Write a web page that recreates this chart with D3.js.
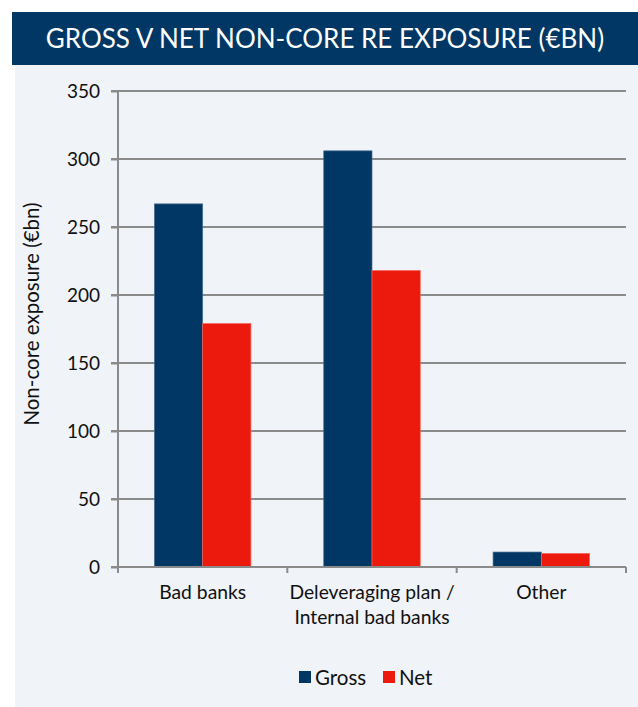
<!DOCTYPE html>
<html>
<head>
<meta charset="utf-8">
<script src="https://cdn.jsdelivr.net/npm/d3@7"></script>
<style>
  html, body { margin: 0; padding: 0; background: #ffffff; }
  svg { display: block; font-family: Lato, "Open Sans", sans-serif; }
</style>
</head>
<body>
<svg id="chart" width="638" height="707"></svg>
<script>
const title = "GROSS V NET NON-CORE RE EXPOSURE (€BN)";
const categories = ["Bad banks", "Deleveraging plan /\nInternal bad banks", "Other"];
const seriesNames = ["Gross", "Net"];
const grossValues = [267, 306, 11];
const netValues = [179, 218, 10];
const yTicks = [0, 50, 100, 150, 200, 250, 300, 350];
const yLabel = "Non-core exposure (€bn)";
const colors = { Gross: "#003764", Net: "#ec1a0c" };

(function () {
const svg = d3.select("#chart");

// panel background
svg.append("rect").attr("x", 15).attr("y", 60).attr("width", 623).attr("height", 647).attr("fill", "#f0f3f7");
// title banner
svg.append("rect").attr("x", 12).attr("y", 12).attr("width", 626).attr("height", 53).attr("fill", "#003764");
svg.append("text").attr("x", 325).attr("y", 48).attr("text-anchor", "middle")
  .attr("fill", "#ffffff").attr("font-size", 26).text(title);

const pLeft = 118, pRight = 626, pTop = 91, pBottom = 567;
const x = d3.scaleBand().domain(categories).range([pLeft, pRight]).paddingInner(0.43).paddingOuter(0.215);
const xs = d3.scaleBand().domain(seriesNames).range([0, x.bandwidth()]);
const y = d3.scaleLinear().domain([0, 350]).range([pBottom, pTop]);

const data = categories.map((c, i) => ({ cat: c, Gross: grossValues[i], Net: netValues[i] }));

// gridlines
svg.append("g").selectAll("line").data(yTicks.filter(t => t > 0)).join("line")
  .attr("x1", pLeft - 7).attr("x2", pRight).attr("y1", d => y(d)).attr("y2", d => y(d))
  .attr("stroke", "#8a8a8a").attr("stroke-width", 2);

// bars
const groups = svg.append("g").selectAll("g").data(data).join("g")
  .attr("transform", d => `translate(${x(d.cat)},0)`);
groups.selectAll("rect").data(d => seriesNames.map(s => ({ s, v: d[s] }))).join("rect")
  .attr("x", d => xs(d.s)).attr("width", xs.bandwidth())
  .attr("y", d => y(d.v)).attr("height", d => y(0) - y(d.v))
  .attr("fill", d => colors[d.s])
  .attr("stroke", d => d.s === "Gross" ? "#4a6e93" : "#f3675c").attr("stroke-width", 0.7);

// y axis
const yAxis = d3.axisLeft(y).tickValues(yTicks).tickSize(7).tickPadding(11);
const ya = svg.append("g").attr("transform", `translate(${pLeft},0)`).call(yAxis);
ya.select(".domain").remove();
ya.selectAll(".tick line").attr("stroke", "#8a8a8a").attr("stroke-width", 2);
ya.selectAll(".tick text").attr("font-size", 19).attr("fill", "#111").attr("font-family", "Lato, sans-serif");
svg.append("line").attr("x1", pLeft).attr("x2", pLeft).attr("y1", pTop).attr("y2", pBottom + 6)
  .attr("stroke", "#8a8a8a").attr("stroke-width", 2);

// x axis
svg.append("line").attr("x1", pLeft - 7).attr("x2", pRight).attr("y1", pBottom).attr("y2", pBottom)
  .attr("stroke", "#8a8a8a").attr("stroke-width", 2);
const boundaries = [pLeft].concat(categories.map(c => x(c) + x.bandwidth() + x.step() * x.paddingInner() / 2));
boundaries[boundaries.length - 1] = pRight;
svg.append("g").selectAll("line").data(boundaries).join("line")
  .attr("x1", d => d).attr("x2", d => d).attr("y1", pBottom).attr("y2", pBottom + 6)
  .attr("stroke", "#8a8a8a").attr("stroke-width", 2);

// category labels
svg.append("g").selectAll("text").data(categories).join("text")
  .attr("text-anchor", "middle").attr("font-size", 19.3).attr("fill", "#111")
  .attr("transform", d => `translate(${x(d) + x.bandwidth() / 2},599)`)
  .each(function(d) {
    const lines = d.split("\n");
    d3.select(this).selectAll("tspan").data(lines).join("tspan")
      .attr("x", 0).attr("dy", (l, i) => i === 0 ? 0 : 25).text(l => l);
  });

// y label
svg.append("text").attr("transform", "translate(39,314) rotate(-90)")
  .attr("text-anchor", "middle").attr("font-size", 20.5).attr("fill", "#111").text(yLabel);

// legend
const legend = svg.append("g");
const legendPos = [{ s: "Gross", x: 299 }, { s: "Net", x: 383 }];
legendPos.forEach(p => {
  legend.append("rect").attr("x", p.x).attr("y", 671).attr("width", 12).attr("height", 12).attr("fill", colors[p.s]);
  legend.append("text").attr("x", p.x + 16).attr("y", 685).attr("font-size", 20.5).attr("fill", "#111").text(p.s);
});
})();
</script>
</body>
</html>
